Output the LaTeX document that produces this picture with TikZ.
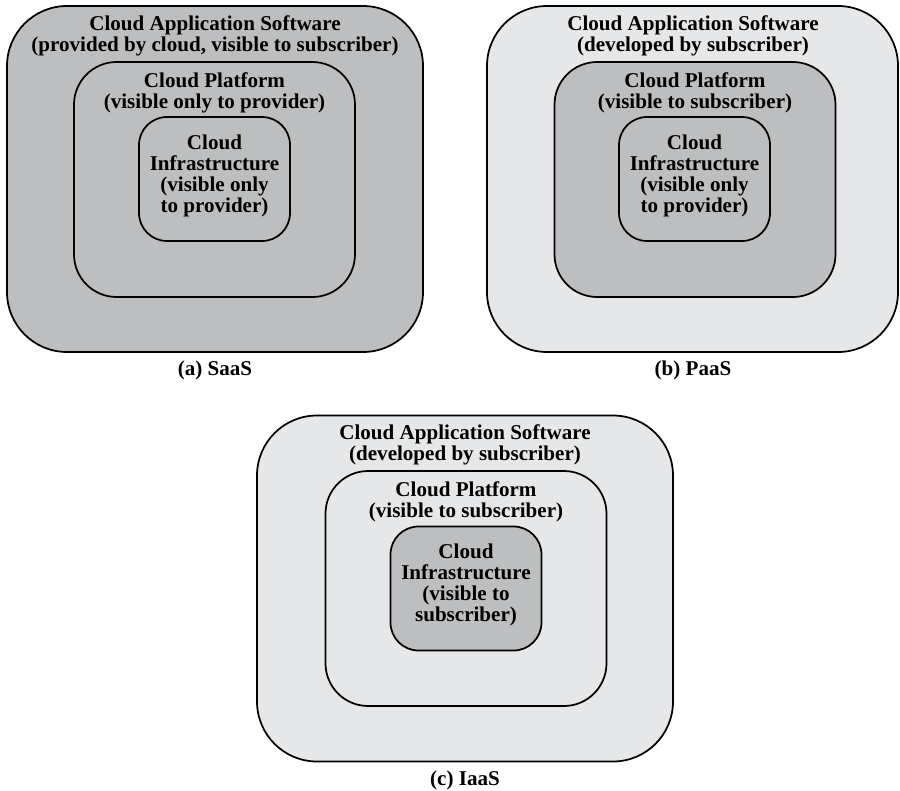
\documentclass[tikz,border=0pt]{standalone}
\usepackage{fontspec}
\setmainfont{Liberation Serif}
\definecolor{darkgrey}{HTML}{BCBEC0}
\definecolor{lightgrey}{HTML}{E6E7E8}
\begin{document}
\begin{tikzpicture}[x=0.75pt,y=-0.75pt,
 box/.style={draw=black, line width=1.3pt, inner sep=0pt},
 outerbox/.style={box, minimum width=312pt, minimum height=259.5pt, rounded corners=45pt},
 midbox/.style={box, minimum width=210.75pt, minimum height=176.25pt, rounded corners=32pt},
 innbox/.style={box, minimum width=113.25pt, minimum height=93pt, rounded corners=21pt},
 dark/.style={fill=darkgrey}, light/.style={fill=lightgrey},
 lbl/.style={font=\bfseries\fontsize{15.8}{15.75}\selectfont, align=center, anchor=base, inner sep=0pt},
]
\useasboundingbox (0,0) rectangle (900,790);
% (a) SaaS
\node[outerbox, dark] (aout) at (215,179) {};
\node[midbox, dark] (amid) at (214.5,179.5) {};
\node[innbox, dark] (ainn) at (214.5,179) {};
\node[lbl] (aoutT) at (215,51.5) {Cloud Application Software\\(provided by cloud, visible to subscriber)};
\node[lbl] (amidT) at (214.5,108.5) {Cloud Platform\\(visible only to provider)};
\node[lbl] (ainnT) at (214.5,212) {Cloud\\Infrastructure\\(visible only\\to provider)};
\node[lbl] (alab) at (215,375) {(a) SaaS};
% (b) PaaS
\node[outerbox, light, minimum width=308.25pt] (bout) at (692.5,179) {};
\node[midbox, dark] (bmid) at (695,179.5) {};
\node[innbox, dark] (binn) at (694.5,179) {};
\node[lbl] (boutT) at (693,51.5) {Cloud Application Software\\(developed by subscriber)};
\node[lbl] (bmidT) at (695,108.5) {Cloud Platform\\(visible to subscriber)};
\node[lbl] (binnT) at (694.5,212) {Cloud\\Infrastructure\\(visible only\\to provider)};
\node[lbl] (blab) at (693,375) {(b) PaaS};
% (c) IaaS
\node[outerbox, light] (cout) at (465,588.5) {};
\node[midbox, light] (cmid) at (466,588.5) {};
\node[innbox, dark] (cinn) at (466,588.5) {};
\node[lbl] (coutT) at (465,460.5) {Cloud Application Software\\(developed by subscriber)};
\node[lbl] (cmidT) at (466,517.5) {Cloud Platform\\(visible to subscriber)};
\node[lbl] (cinnT) at (466,621.5) {Cloud\\Infrastructure\\(visible to\\subscriber)};
\node[lbl] (clab) at (465,785) {(c) IaaS};
\end{tikzpicture}
\end{document}
